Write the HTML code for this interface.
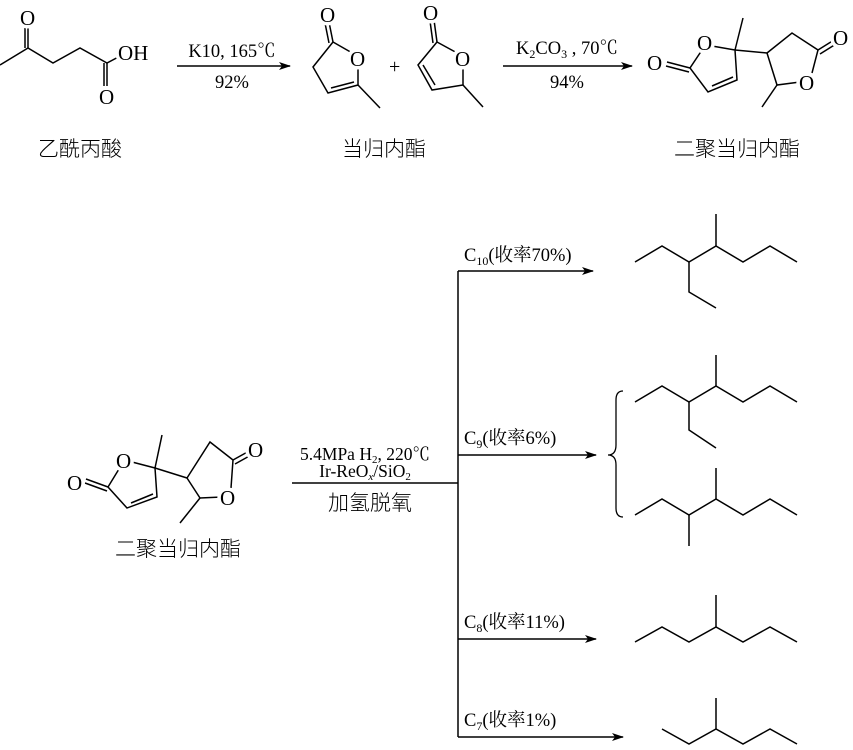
<!DOCTYPE html>
<html><head><meta charset="utf-8"><style>
html,body{margin:0;padding:0;background:#fff}
svg{display:block}
text{font-family:"Liberation Serif","Noto Serif CJK SC",serif;fill:#000}
.cj{font-family:"Liberation Sans","Noto Sans CJK SC",sans-serif;font-size:21px;font-weight:300}
.ol{stroke:#fff;stroke-width:7px;paint-order:stroke;stroke-linejoin:round}
</style></head><body>
<svg width="853" height="750" viewBox="0 0 853 750" xmlns="http://www.w3.org/2000/svg">
<defs><marker id="ah" markerWidth="12" markerHeight="8" refX="11" refY="4" orient="auto" markerUnits="userSpaceOnUse"><path d="M0,0 L12,4 L0,8 L3,4 Z" fill="#000"/></marker></defs>
<g stroke="#000" stroke-width="1.5" fill="none">
<polyline points="0,65 28,48 53,63 80,48 107,63 124,54"/>
<line x1="28" y1="48" x2="28" y2="26"/><line x1="25" y1="48" x2="25" y2="26"/>
<line x1="107" y1="63" x2="107" y2="86"/><line x1="104" y1="63" x2="104" y2="86"/>
<line x1="177" y1="66" x2="290" y2="66" marker-end="url(#ah)"/>
<polyline points="333,42 354,54"/><polyline points="358,66 358,85 328,93 313,67 333,42"/>
<line x1="358" y1="85" x2="380" y2="108"/><line x1="331" y1="88" x2="354" y2="82"/>
<line x1="333" y1="42" x2="329" y2="22"/><line x1="329" y1="43" x2="325" y2="23"/>
<polyline points="437,42 459,54"/><polyline points="463,66 463,85 432,90 418,65 437,42"/>
<line x1="463" y1="85" x2="483" y2="107"/><line x1="423" y1="65" x2="435" y2="85"/>
<line x1="437" y1="42" x2="434" y2="20"/><line x1="433" y1="43" x2="430" y2="21"/>
<line x1="503" y1="66" x2="632" y2="66" marker-end="url(#ah)"/>
<polyline points="712,46 735,50 737,80 708,92 690,68 702,50"/>
<line x1="735" y1="50" x2="743" y2="18"/><line x1="735" y1="50" x2="767" y2="53"/>
<line x1="712" y1="86" x2="733" y2="77"/>
<line x1="690" y1="68" x2="667" y2="62"/><line x1="689" y1="72" x2="666" y2="66"/>
<polyline points="767,53 792,33 818,50 812,73"/><polyline points="767,53 777,85 800,82"/>
<line x1="777" y1="85" x2="762" y2="107"/>
<line x1="818" y1="50" x2="834" y2="40"/><line x1="820" y1="54" x2="836" y2="44"/>
<polyline points="132,462 155,468 157,497 127,508 108,487 119,469"/>
<line x1="155" y1="468" x2="162" y2="435"/><line x1="155" y1="468" x2="187" y2="478"/>
<line x1="131" y1="503" x2="153" y2="494"/>
<line x1="108" y1="487" x2="86" y2="479"/><line x1="107" y1="491" x2="85" y2="483"/>
<polyline points="187,478 210,442 233,460 231,488"/><polyline points="187,478 200,498 222,497"/>
<line x1="200" y1="498" x2="180" y2="523"/>
<line x1="233" y1="460" x2="251" y2="450"/><line x1="235" y1="464" x2="253" y2="454"/>
<line x1="292" y1="483" x2="458" y2="483"/>
<line x1="458" y1="271" x2="458" y2="737"/>
<line x1="458" y1="271" x2="593" y2="271" marker-end="url(#ah)"/>
<line x1="458" y1="455" x2="596" y2="455" marker-end="url(#ah)"/>
<line x1="458" y1="639" x2="596" y2="639" marker-end="url(#ah)"/>
<line x1="458" y1="737" x2="623" y2="737" marker-end="url(#ah)"/>
<path d="M623,391 Q616,391 616,400 L616,445 Q616,455 608,455 Q616,455 616,465 L616,508 Q616,517 623,517" stroke-width="1.3"/>
<polyline points="635,262 662,246 689,262 716,246 743,262 770,246 797,262"/>
<polyline points="689,262 689,292 716,308"/><line x1="716" y1="246" x2="716" y2="214"/>
<polyline points="635,402 662,386 689,402 716,386 743,402 770,386 797,402"/>
<polyline points="689,402 689,430 716,448"/><line x1="716" y1="386" x2="716" y2="355"/>
<polyline points="635,515 662,499 689,515 716,499 743,515 770,499 797,515"/>
<line x1="689" y1="515" x2="689" y2="546"/><line x1="716" y1="499" x2="716" y2="468"/>
<polyline points="635,642 662,627 689,642 716,627 743,642 770,627 797,642"/><line x1="716" y1="627" x2="716" y2="595"/>
<polyline points="662,729 689,744 716,729 743,744 770,729 797,744"/><line x1="716" y1="729" x2="716" y2="698"/>
</g>
<g font-size="21" class="ol">
<text x="20" y="25">O</text><text x="118" y="60">OH</text><text x="99" y="104">O</text>
<text x="320" y="22">O</text><text x="350" y="66">O</text>
<text x="423" y="20">O</text><text x="455" y="66">O</text>
<text x="697" y="50">O</text><text x="647" y="70">O</text><text x="833" y="45">O</text><text x="799" y="90">O</text>
<text x="116" y="468">O</text><text x="67" y="490">O</text><text x="248" y="457">O</text><text x="220" y="505">O</text>
</g>
<text x="389" y="73" font-size="20">+</text>
<g font-size="18.5" text-anchor="middle">
<text x="232" y="57">K10, 165℃</text><text x="232" y="88">92%</text>
<text x="567" y="54">K<tspan font-size="12" dy="4">2</tspan><tspan dy="-4">CO</tspan><tspan font-size="12" dy="4">3</tspan><tspan dy="-4"> , 70℃</tspan></text>
<text x="567" y="88">94%</text>
</g>
<g font-size="17.5" text-anchor="middle">
<text x="365" y="460">5.4MPa H<tspan font-size="11" dy="3">2</tspan><tspan dy="-3">, 220℃</tspan></text>
<text x="365" y="477">Ir-ReO<tspan font-size="11" font-style="italic" dy="3">x</tspan><tspan dy="-3">/SiO</tspan><tspan font-size="11" dy="3">2</tspan></text>
</g>
<g font-size="18.5">
<text x="464" y="261">C<tspan font-size="12" dy="4">10</tspan><tspan dy="-4">(收率70%)</tspan></text>
<text x="464" y="444">C<tspan font-size="12" dy="4">9</tspan><tspan dy="-4">(收率6%)</tspan></text>
<text x="464" y="628">C<tspan font-size="12" dy="4">8</tspan><tspan dy="-4">(收率11%)</tspan></text>
<text x="464" y="726">C<tspan font-size="12" dy="4">7</tspan><tspan dy="-4">(收率1%)</tspan></text>
</g>
<text class="cj" x="370" y="510" text-anchor="middle" font-size="18">加氢脱氧</text>
<text class="cj" x="80" y="156" text-anchor="middle">乙酰丙酸</text>
<text class="cj" x="384" y="156" text-anchor="middle">当归内酯</text>
<text class="cj" x="737" y="156" text-anchor="middle">二聚当归内酯</text>
<text class="cj" x="178" y="556" text-anchor="middle">二聚当归内酯</text>
</svg>
</body></html>
